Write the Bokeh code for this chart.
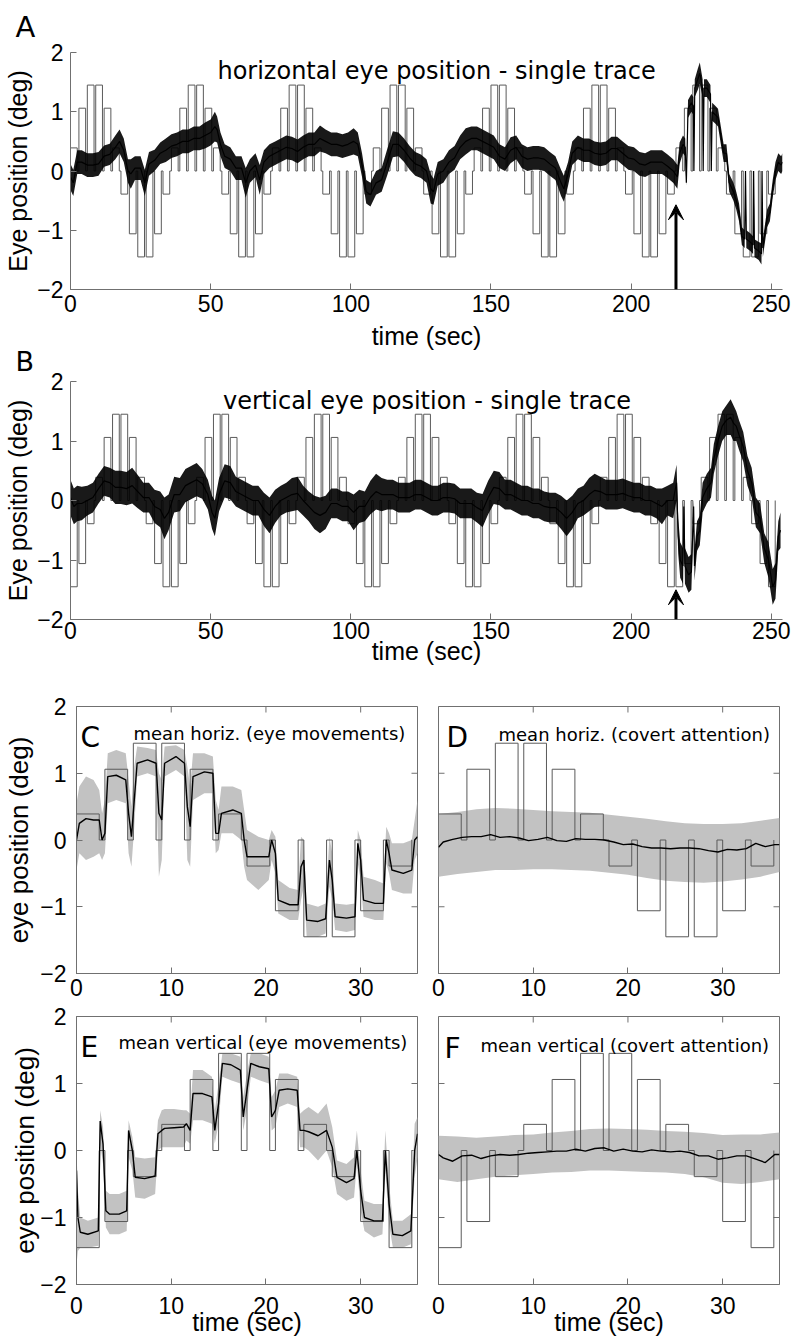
from math import pi
import numpy as np
from bokeh.plotting import figure
from bokeh.layouts import column, row
from bokeh.models import FixedTicker, Label, Arrow, VeeHead, Range1d
from bokeh.embed import file_html
from bokeh.resources import INLINE

# ---------------- data ----------------
# stimulus: 12 targets per 36 s cycle, each on for 2.4 s
target_on = [0, 3, 6, 9, 12, 15, 18, 21, 24, 27, 30, 33]
target_dur = 2.4
cycle_start = [0, 36, 72, 108, 144, 180, 216]
H_levels = [0.39, 1.06, 1.45, 1.45, 1.06, 0.39, -0.39, -1.06, -1.45, -1.45, -1.06, -0.39]
V_levels = [-1.45, -1.06, -0.39, 0.39, 1.06, 1.45, 1.45, 1.06, 0.39, -0.39, -1.06, -1.45]

arrow_t = 216
arrow_tip_A = -0.57
arrow_tip_B = -1.5

long_xticks = [0, 50, 100, 150, 200, 250]
short_xticks = [0, 10, 20, 30]
yticks = [-2, -1, 0, 1, 2]

# A: horizontal single trace (centre and half-width of the noisy trace)
A_t = [0, 1, 2.4, 4, 6, 8, 10, 12, 14, 16,
       17.5, 19, 20.5, 21.5, 23, 25, 26.5, 28, 30, 32,
       34, 36, 38, 40, 42, 44, 46, 48, 50, 51.5,
       52.3, 53.5, 55, 57, 59, 61, 62.5, 64, 66, 67.5,
       69, 71, 73, 75, 77, 79, 81, 83, 85, 87,
       89, 91, 93, 95, 97, 99, 101, 102.5, 104, 105.5,
       107, 109, 111, 113, 115, 117, 119, 121, 123, 125,
       127, 128.5, 129.5, 131, 133, 135, 137, 139, 141, 143,
       145, 147, 149, 151, 153, 155, 157, 159, 161, 163,
       165, 167, 169, 171, 173, 175, 176, 177.5, 179, 181,
       183, 185, 187, 189, 191, 193, 195, 197, 199, 201,
       203, 205, 207, 209, 211, 213, 215, 216.5, 217.3, 218.5,
       219.3, 219.7, 220.3, 221.5, 222.2, 222.4, 222.7, 223.8, 224.5, 225.5,
       225.7, 226.0, 227, 228.3, 228.6, 228.9, 230, 231, 232, 233,
       234, 235, 236.5, 237.5, 238.5, 239.5, 240.5, 240.8, 241.1, 242.5,
       243.5, 243.7, 244, 245.5, 246.5, 246.7, 247, 248.5, 249.5, 250.5,
       251.5, 252.5, 253.5, 254]
A_c = [-0.1, -0.2, 0.15, 0.15, 0.1, 0.1, 0.12, 0.25, 0.28, 0.4,
       0.5, 0.35, 0.0, -0.05, 0.05, 0.05, -0.2, 0.12, 0.18, 0.3,
       0.35, 0.42, 0.45, 0.5, 0.5, 0.55, 0.55, 0.6, 0.65, 0.75,
       0.7, 0.45, 0.25, 0.2, 0.05, 0.05, -0.2, 0.0, 0.1, -0.15,
       0.15, 0.25, 0.3, 0.35, 0.4, 0.38, 0.33, 0.4, 0.45, 0.45,
       0.55, 0.5, 0.45, 0.45, 0.42, 0.45, 0.5, 0.45, 0.1, -0.35,
       -0.4, -0.2, -0.15, 0.15, 0.45, 0.45, 0.35, 0.22, 0.12, 0.08,
       0.0, -0.3, -0.35, -0.05, 0.0, 0.15, 0.22, 0.4, 0.5, 0.55,
       0.55, 0.5, 0.45, 0.4, 0.25, 0.2, 0.35, 0.4, 0.25, 0.2,
       0.22, 0.22, 0.2, 0.12, 0.05, -0.2, -0.3, -0.05, 0.3, 0.4,
       0.35, 0.35, 0.3, 0.28, 0.3, 0.38, 0.38, 0.3, 0.22, 0.2,
       0.12, 0.1, 0.15, 0.15, 0.15, 0.08, 0.0, -0.1, 0.3, 0.45,
       0.4, -0.2, 1.05, 1.15, 1.1, 0.0, 1.4, 1.55, 1.65, 1.4,
       0.0, 1.4, 1.4, 1.3, 0.0, 1.0, 0.95, 0.9, 0.6, 0.3,
       0.3, -0.2, -0.35, -0.5, -0.7, -1.1, -1.15, 0.0, -1.15, -1.2,
       -1.25, 0.0, -1.3, -1.35, -1.4, 0.0, -1.3, -0.8, -0.7, -0.3,
       0.0, 0.15, 0.1, 0.15]
A_hw = [0.22, 0.22, 0.2, 0.2, 0.2, 0.2, 0.2, 0.18, 0.18, 0.2,
        0.2, 0.2, 0.2, 0.25, 0.2, 0.2, 0.22, 0.2, 0.18, 0.18,
        0.2, 0.2, 0.2, 0.2, 0.2, 0.2, 0.2, 0.22, 0.22, 0.25,
        0.22, 0.2, 0.2, 0.2, 0.2, 0.2, 0.25, 0.2, 0.2, 0.25,
        0.2, 0.2, 0.2, 0.2, 0.2, 0.2, 0.2, 0.2, 0.2, 0.2,
        0.22, 0.2, 0.2, 0.2, 0.2, 0.2, 0.22, 0.2, 0.2, 0.2,
        0.2, 0.2, 0.2, 0.22, 0.22, 0.2, 0.2, 0.2, 0.2, 0.2,
        0.2, 0.25, 0.22, 0.2, 0.2, 0.2, 0.2, 0.2, 0.22, 0.2,
        0.2, 0.2, 0.2, 0.2, 0.2, 0.2, 0.22, 0.2, 0.2, 0.2,
        0.2, 0.2, 0.2, 0.2, 0.2, 0.22, 0.22, 0.2, 0.2, 0.2,
        0.2, 0.2, 0.2, 0.2, 0.2, 0.2, 0.2, 0.2, 0.2, 0.2,
        0.2, 0.2, 0.2, 0.2, 0.2, 0.2, 0.2, 0.2, 0.18, 0.15,
        0.15, 0.05, 0.15, 0.15, 0.15, 0.03, 0.15, 0.18, 0.18, 0.15,
        0.03, 0.15, 0.15, 0.15, 0.03, 0.15, 0.15, 0.15, 0.15, 0.15,
        0.15, 0.15, 0.15, 0.15, 0.15, 0.15, 0.15, 0.03, 0.15, 0.15,
        0.15, 0.03, 0.15, 0.15, 0.18, 0.03, 0.15, 0.15, 0.15, 0.15,
        0.15, 0.15, 0.15, 0.15]

# B: vertical single trace
B_t = [0, 1.2, 2.4, 4, 6, 8, 10, 12, 14, 16,
       18, 20, 22, 24, 26, 28, 30, 32, 33.5, 35,
       37, 39, 41, 43, 45, 47, 49, 50.5, 51.5, 53,
       55, 57, 59, 61, 63, 65, 67, 69, 71, 73,
       75, 77, 79, 81, 83, 85, 87, 89, 91, 93,
       95, 97, 99, 101, 103, 105, 107, 109, 111, 113,
       115, 117, 119, 121, 123, 125, 127, 129, 131, 133,
       135, 137, 139, 141, 143, 145, 147, 149, 151, 153,
       155, 157, 159, 161, 163, 165, 167, 169, 171, 173,
       175, 177, 179, 181, 183, 185, 187, 189, 191, 193,
       195, 197, 199, 201, 203, 205, 207, 209, 211, 213,
       215, 216.2, 216.8, 217.5, 218.5, 218.8, 219.2, 220.5, 221.5, 222.3,
       222.6, 223.5, 224.5, 225.5, 227, 228.5, 229.5, 231, 232.5, 234,
       235.5, 236.5, 237.5, 238.5, 240, 241.5, 243, 244.5, 246, 247.5,
       249, 250.5, 251.5, 252.5, 253.3]
B_c = [0.05, -0.1, -0.05, -0.05, 0.0, 0.05, 0.2, 0.33, 0.3, 0.22,
       0.22, 0.2, 0.25, 0.15, 0.05, 0.05, -0.1, -0.15, -0.3, -0.2,
       0.1, 0.1, 0.25, 0.3, 0.35, 0.28, 0.1, -0.2, -0.3, 0.1,
       0.33, 0.3, 0.15, 0.1, 0.05, 0.0, 0.0, -0.15, -0.25, -0.1,
       0.0, 0.05, 0.1, 0.12, 0.0, -0.1, -0.2, -0.25, -0.2, -0.05,
       -0.05, -0.1, -0.1, -0.2, -0.1, -0.1, 0.05, 0.15, 0.1, 0.1,
       0.1, 0.05, 0.05, 0.05, 0.1, 0.1, 0.05, 0.0, 0.0, 0.05,
       0.05, 0.03, -0.05, -0.05, -0.05, -0.12, -0.17, 0.05, 0.22, 0.2,
       0.1, 0.1, 0.05, 0.0, 0.0, -0.05, -0.05, -0.1, -0.12, -0.12,
       -0.2, -0.3, -0.2, -0.05, 0.0, 0.1, 0.17, 0.15, 0.1, 0.1,
       0.1, 0.12, 0.08, 0.05, 0.05, 0.0, 0.0, -0.05, -0.1, 0.0,
       0.0, 0.3, -0.6, -1.0, -1.1, -0.1, -1.1, -1.25, -1.2, -0.1,
       -1.1, -0.6, -0.5, 0.05, 0.2, 0.3, 0.7, 1.0, 1.25, 1.35,
       1.4, 1.3, 1.25, 1.1, 0.9, 0.5, 0.3, -0.2, -0.3, -0.8,
       -1.0, -1.45, -1.35, -0.6, -0.5]
B_hw = [0.3, 0.3, 0.3, 0.28, 0.25, 0.25, 0.25, 0.25, 0.25, 0.28,
        0.28, 0.28, 0.3, 0.28, 0.25, 0.25, 0.28, 0.3, 0.35, 0.3,
        0.3, 0.28, 0.28, 0.28, 0.28, 0.25, 0.25, 0.28, 0.3, 0.28,
        0.28, 0.28, 0.25, 0.25, 0.25, 0.25, 0.25, 0.28, 0.3, 0.28,
        0.25, 0.25, 0.28, 0.28, 0.25, 0.25, 0.28, 0.3, 0.28, 0.25,
        0.25, 0.25, 0.25, 0.3, 0.28, 0.25, 0.28, 0.3, 0.28, 0.25,
        0.25, 0.25, 0.25, 0.25, 0.25, 0.25, 0.25, 0.25, 0.25, 0.25,
        0.25, 0.25, 0.25, 0.25, 0.25, 0.25, 0.28, 0.28, 0.28, 0.28,
        0.25, 0.25, 0.25, 0.25, 0.25, 0.25, 0.25, 0.25, 0.25, 0.25,
        0.28, 0.3, 0.28, 0.25, 0.25, 0.28, 0.28, 0.25, 0.25, 0.25,
        0.25, 0.25, 0.25, 0.25, 0.25, 0.25, 0.25, 0.25, 0.3, 0.25,
        0.3, 0.3, 0.3, 0.3, 0.3, 0.1, 0.3, 0.3, 0.3, 0.1,
        0.25, 0.25, 0.25, 0.25, 0.25, 0.25, 0.25, 0.25, 0.25, 0.25,
        0.3, 0.3, 0.25, 0.25, 0.25, 0.25, 0.25, 0.25, 0.25, 0.25,
        0.3, 0.3, 0.3, 0.25, 0.3]

# C: mean horizontal (eye movements): mean and band limits
C_t = [0, 0.3, 1.0, 1.8, 2.4, 2.7, 3.0, 3.3, 4.2, 5.2,
       5.5, 5.8, 6.1, 6.4, 7.5, 8.4, 8.7, 9.0, 9.3, 10.5,
       11.4, 11.7, 12.0, 12.3, 13.5, 14.4, 14.7, 15.0, 15.3, 16.5,
       17.4, 17.7, 18.0, 19.2, 20.3, 20.6, 21.0, 21.3, 22.5, 23.4,
       23.7, 24.0, 24.3, 25.5, 26.3, 26.7, 27.0, 27.3, 28.5, 29.4,
       29.7, 30.0, 30.3, 31.5, 32.4, 32.7, 33.0, 33.3, 34.5, 35.4,
       35.7, 36.0]
C_m = [0.0, 0.25, 0.32, 0.3, 0.3, 0.0, 0.1, 0.95, 0.97, 0.9,
       0.4, 0.05, 0.6, 1.15, 1.2, 1.15, 0.4, 0.3, 1.15, 1.25,
       1.15, 0.5, 0.2, 0.95, 1.02, 1.0, 0.1, 0.1, 0.4, 0.45,
       0.4, 0.0, -0.25, -0.25, -0.25, 0.0, -0.2, -0.9, -0.97, -0.97,
       -0.4, -0.3, -1.2, -1.22, -1.18, -0.3, -0.6, -1.15, -1.17, -1.15,
       -0.05, -0.3, -0.9, -0.95, -0.95, 0.0, -0.2, -0.45, -0.5, -0.45,
       0.0, 0.05]
C_lo = [-0.45, -0.2, -0.3, -0.25, -0.2, -0.3, -0.2, 0.55, 0.6, 0.55,
        -0.2, -0.4, 0.2, 0.95, 1.0, 0.95, -0.55, -0.3, 0.95, 1.05,
        0.95, -0.3, -0.4, 0.6, 0.7, 0.7, -0.2, -0.15, 0.1, 0.1,
        0.0, -0.4, -0.6, -0.75, -0.6, -0.3, -0.5, -1.1, -1.2, -1.2,
        -0.9, -0.7, -1.45, -1.45, -1.4, -0.7, -0.9, -1.35, -1.38, -1.35,
        -0.35, -0.6, -1.15, -1.2, -1.2, -0.35, -0.5, -0.75, -0.8, -0.8,
        -0.3, -0.2]
C_hi = [0.55, 0.8, 0.95, 0.9, 0.75, 0.4, 0.6, 1.3, 1.35, 1.3,
        0.9, 0.5, 1.1, 1.4, 1.38, 1.35, 1.0, 0.9, 1.4, 1.42,
        1.35, 1.1, 0.8, 1.3, 1.3, 1.25, 0.6, 0.45, 0.8, 0.8,
        0.75, 0.45, 0.15, 0.05, 0.0, 0.15, 0.05, -0.6, -0.72, -0.75,
        0.05, 0.0, -0.95, -1.0, -0.95, 0.05, -0.2, -0.95, -0.97, -0.95,
        0.15, 0.0, -0.55, -0.6, -0.65, 0.2, 0.1, -0.05, -0.05, 0.0,
        0.3, 0.6]

# E: mean vertical (eye movements)
E_t = [0, 0.15, 0.4, 1.2, 2.3, 2.5, 2.8, 3.1, 3.5, 4.5,
       5.3, 5.5, 5.9, 6.2, 7.2, 8.3, 8.6, 9.0, 9.3, 10.3,
       11.3, 11.6, 12.0, 12.3, 13.3, 14.3, 14.6, 15.0, 15.4, 16.3,
       17.3, 17.6, 18.0, 18.4, 19.3, 20.3, 20.6, 21.0, 21.4, 22.3,
       23.3, 23.6, 24.0, 24.5, 25.5, 26.4, 27.0, 27.5, 28.5, 29.3,
       29.6, 30.0, 30.4, 31.4, 32.3, 32.6, 33.0, 33.4, 34.4, 35.3,
       35.7, 36.0]
E_m = [-0.3, -1.0, -1.22, -1.25, -1.2, 0.44, 0.1, -0.9, -0.95, -0.95,
       -0.9, 0.3, 0.0, -0.4, -0.42, -0.38, 0.25, 0.3, 0.33, 0.34,
       0.35, 0.4, 0.3, 0.85, 0.85, 0.8, 0.3, 0.7, 1.3, 1.28,
       1.2, 0.5, 0.9, 1.3, 1.25, 1.22, 0.5, 0.6, 0.9, 0.92,
       0.9, 0.3, 0.3, 0.28, 0.22, 0.3, 0.05, -0.4, -0.48, -0.42,
       0.0, -0.6, -1.0, -1.05, -1.05, 0.0, -0.8, -1.25, -1.27, -1.2,
       0.0, 0.25]
E_lo = [-1.7, -1.5, -1.45, -1.45, -1.42, 0.1, -0.2, -1.15, -1.25, -1.25,
        -1.2, -0.1, -0.3, -0.7, -0.72, -0.65, 0.0, 0.05, 0.05, 0.05,
        0.05, 0.15, 0.1, 0.45, 0.45, 0.4, 0.1, 0.4, 1.1, 1.05,
        1.0, 0.3, 0.6, 1.1, 1.05, 1.0, 0.3, 0.35, 0.65, 0.7,
        0.65, 0.05, 0.05, 0.0, -0.15, 0.0, -0.25, -0.65, -0.75, -0.7,
        -0.2, -0.9, -1.2, -1.3, -1.25, -0.3, -1.1, -1.45, -1.45, -1.4,
        -0.4, -0.1]
E_hi = [0.0, -0.6, -1.0, -1.05, -1.0, 0.6, 0.35, -0.6, -0.65, -0.65,
        -0.6, 0.45, 0.2, -0.1, -0.12, -0.1, 0.45, 0.6, 0.62, 0.62,
        0.6, 0.6, 0.55, 1.2, 1.2, 1.1, 0.6, 1.0, 1.45, 1.45,
        1.4, 0.8, 1.15, 1.45, 1.45, 1.4, 0.8, 0.9, 1.15, 1.15,
        1.1, 0.55, 0.6, 0.65, 0.55, 0.7, 0.35, -0.15, -0.2, -0.1,
        0.3, -0.3, -0.75, -0.8, -0.8, 0.3, -0.5, -1.05, -1.05, -0.95,
        0.4, 0.5]

# D / F: covert attention means (1 s grid) and band limits (2 s grid)
DF_t = [0, 0.5, 1.5, 2.5, 3.5, 4.5, 5.5, 6.5, 7.5, 8.5,
        9.5, 10.5, 11.5, 12.5, 13.5, 14.5, 15.5, 16.5, 17.5, 18.5,
        19.5, 20.5, 21.5, 22.5, 23.5, 24.5, 25.5, 26.5, 27.5, 28.5,
        29.5, 30.5, 31.5, 32.5, 33.5, 34.5, 35.5, 36]
D_m = [-0.11, -0.03, 0.01, 0.04, 0.05, 0.05, 0.08, 0.04, 0.05, 0.03,
       -0.01, 0.01, 0.04, -0.01, -0.02, 0.02, 0.01, 0.01, 0.0, -0.03,
       -0.07, -0.06, -0.1, -0.12, -0.12, -0.13, -0.12, -0.12, -0.13, -0.16,
       -0.18, -0.14, -0.15, -0.13, -0.05, -0.1, -0.07, -0.07]
F_m = [-0.06, -0.11, -0.16, -0.08, -0.07, -0.12, -0.08, -0.06, -0.07, -0.06,
       -0.04, -0.03, -0.02, -0.01, -0.01, 0.02, -0.01, 0.03, 0.04, -0.01,
       0.02, -0.01, -0.02, 0.01, -0.01, -0.02, -0.01, -0.03, -0.08, -0.08,
       -0.13, -0.11, -0.08, -0.08, -0.13, -0.18, -0.06, -0.06]
band_t = [0, 2, 4, 6, 8, 10, 12, 14, 16, 18, 20, 22, 24, 26, 28, 30, 32, 34, 36]
D_lo = [-0.55, -0.51, -0.48, -0.45, -0.45, -0.44, -0.44, -0.45, -0.46, -0.49,
        -0.52, -0.57, -0.61, -0.63, -0.64, -0.62, -0.59, -0.55, -0.48]
D_hi = [0.39, 0.42, 0.46, 0.48, 0.47, 0.45, 0.43, 0.42, 0.41, 0.38,
        0.35, 0.32, 0.28, 0.25, 0.24, 0.24, 0.25, 0.29, 0.33]
F_lo = [-0.43, -0.47, -0.43, -0.39, -0.37, -0.35, -0.33, -0.32, -0.3, -0.3,
        -0.31, -0.32, -0.33, -0.35, -0.4, -0.48, -0.5, -0.47, -0.43]
F_hi = [0.22, 0.21, 0.19, 0.21, 0.23, 0.24, 0.27, 0.29, 0.32, 0.33,
        0.32, 0.31, 0.29, 0.28, 0.26, 0.23, 0.24, 0.24, 0.27]

# ---------------- styling helpers ----------------
GRAY = "#707070"
STIM = "#5a5a5a"
BAND = "#c2c2c2"
NUM_FONT = "Liberation Sans"
TXT_FONT = "DejaVu Sans"
TICK_LEN = 6


def make_fig(w, h, xr, left, right, top, bottom):
    p = figure(width=w, height=h, x_range=Range1d(*xr), y_range=Range1d(-2, 2),
               output_backend="svg", toolbar_location=None,
               min_border_left=left, min_border_right=right,
               min_border_top=top, min_border_bottom=bottom)
    p.xgrid.visible = False
    p.ygrid.visible = False
    p.outline_line_color = None
    p.background_fill_color = "white"
    p.border_fill_color = None
    return p


def style_axis(ax, ticks, standoff=6, label=None, label_size="25px", label_standoff=0):
    ax.ticker = FixedTicker(ticks=ticks)
    ax.minor_tick_line_color = None
    ax.major_tick_in = TICK_LEN
    ax.major_tick_out = 0
    ax.axis_line_color = GRAY
    ax.major_tick_line_color = GRAY
    ax.major_label_text_font = NUM_FONT
    ax.major_label_text_font_size = "23px"
    ax.major_label_text_color = "black"
    ax.major_label_standoff = standoff
    if label:
        ax.axis_label = label
        ax.axis_label_text_font = NUM_FONT
        ax.axis_label_text_font_size = label_size
        ax.axis_label_text_font_style = "normal"
        ax.axis_label_text_color = "black"
        ax.axis_label_standoff = label_standoff


def letter_title(p, text, size, offset, standoff):
    p.title.text = text
    p.title.align = "left"
    p.title.offset = offset
    p.title.text_font = TXT_FONT
    p.title.text_font_size = size
    p.title.text_font_style = "normal"
    p.title.text_color = "black"
    p.title.vertical_align = "top"
    p.title.standoff = standoff


def box_ticks(p, left_ticks=False):
    # inward ticks on the top and right edges (and left when that axis is hidden)
    p.outline_line_color = GRAY
    p.outline_line_width = 1
    p.ray(x=short_xticks, y=[2] * len(short_xticks), length=TICK_LEN,
          length_units="screen", angle=-pi / 2, line_color=GRAY, line_width=1)
    p.ray(x=[36] * len(yticks), y=yticks, length=TICK_LEN,
          length_units="screen", angle=pi, line_color=GRAY, line_width=1)
    if left_ticks:
        p.ray(x=[0] * len(yticks), y=yticks, length=TICK_LEN,
              length_units="screen", angle=0, line_color=GRAY, line_width=1)


def add_text(p, x, y, text, size, dx=0, dy=0, align="left"):
    p.add_layout(Label(x=x, y=y, x_offset=dx, y_offset=dy, text=text,
                       text_font=TXT_FONT, text_font_size=size, text_align=align,
                       text_baseline="alphabetic", text_color="black"))


def stim_path(levels, starts):
    xs, ys = [], []
    for c in starts:
        for on, lv in zip(target_on, levels):
            a = c + on
            b = a + target_dur
            xs += [a, a, b, b]
            ys += [0, lv, lv, 0]
    return xs, ys


def trace_panel(p, t, c, hw, levels, tip):
    sx, sy = stim_path(levels, cycle_start)
    p.line(sx, sy, line_color=STIM, line_width=1)
    c = np.array(c)
    hw = np.array(hw)
    p.varea(x=t, y1=c - hw, y2=c + hw, fill_color="black", fill_alpha=0.9)
    p.line(t, c, line_color="black", line_width=1.2)
    p.add_layout(Arrow(end=VeeHead(size=15, fill_color="black", line_color="black"),
                       x_start=arrow_t, y_start=-2, x_end=arrow_t, y_end=tip,
                       line_width=3, line_color="black"))


def mean_panel(p, mt, m, bt, lo, hi, levels):
    p.varea(x=bt, y1=lo, y2=hi, fill_color=BAND, fill_alpha=1.0)
    sx, sy = stim_path(levels, [0])
    p.line(sx, sy, line_color=STIM, line_width=1)
    p.line(mt, m, line_color="black", line_width=1.4)


# ---------------- panel A ----------------
pA = make_fig(792, 353, (0, 254), 70, 10, 52, 64)
style_axis(pA.xaxis[0], long_xticks, standoff=5, label="time (sec)", label_standoff=7)
style_axis(pA.yaxis[0], yticks, standoff=7, label="Eye position (deg)", label_standoff=2)
letter_title(pA, "A", "29px", -55, 14)
trace_panel(pA, A_t, A_c, A_hw, H_levels, arrow_tip_A)
add_text(pA, 130.6, 1.68, "horizontal eye position - single trace", "24px", align="center")

# ---------------- panel B (pulled up so its top margin overlaps A's bottom margin) ----------------
pB = make_fig(792, 328, (0, 254), 70, 10, 40, 50)
pB.margin = (-12, 0, 0, 0)
style_axis(pB.xaxis[0], long_xticks, standoff=2, label="time (sec)", label_standoff=-5)
style_axis(pB.yaxis[0], yticks, standoff=7, label="Eye position (deg)", label_standoff=2)
letter_title(pB, "B", "27px", -55, 5)
trace_panel(pB, B_t, B_c, B_hw, V_levels, arrow_tip_B)
add_text(pB, 127.2, 1.68, "vertical eye position - single trace", "24px", align="center")

# ---------------- panels C-F ----------------
pC = make_fig(425, 336, (0, 36), 76, 8, 37, 32)
style_axis(pC.xaxis[0], short_xticks, standoff=5)
style_axis(pC.yaxis[0], yticks, standoff=10, label="eye position (deg)",
           label_size="26px", label_standoff=3)
box_ticks(pC)
mean_panel(pC, C_t, C_m, C_t, C_lo, C_hi, H_levels)
add_text(pC, 0, 2, "C", "28px", dx=4, dy=-31)
add_text(pC, 0, 2, "mean horiz. (eye movements)", "18px", dx=57, dy=-27)

pD = make_fig(367, 336, (0, 36), 13, 13, 37, 32)
style_axis(pD.xaxis[0], short_xticks, standoff=5)
pD.yaxis.visible = False
box_ticks(pD, left_ticks=True)
mean_panel(pD, DF_t, D_m, band_t, D_lo, D_hi, H_levels)
add_text(pD, 0, 2, "D", "28px", dx=8, dy=-31)
add_text(pD, 0, 2, "mean horiz. (covert attention)", "18px", dx=60, dy=-28)

pE = make_fig(425, 336, (0, 36), 76, 8, 11, 57)
style_axis(pE.xaxis[0], short_xticks, standoff=12, label="time (sec)", label_standoff=-9)
style_axis(pE.yaxis[0], yticks, standoff=10, label="eye position (deg)",
           label_size="26px", label_standoff=-3)
box_ticks(pE)
mean_panel(pE, E_t, E_m, E_t, E_lo, E_hi, V_levels)
add_text(pE, 0, 2, "E", "28px", dx=4, dy=-31)
add_text(pE, 0, 2, "mean vertical (eye movements)", "18px", dx=42, dy=-26)

pF = make_fig(367, 336, (0, 36), 13, 13, 11, 57)
style_axis(pF.xaxis[0], short_xticks, standoff=12, label="time (sec)", label_standoff=-9)
pF.yaxis.visible = False
box_ticks(pF, left_ticks=True)
mean_panel(pF, DF_t, F_m, band_t, F_lo, F_hi, V_levels)
add_text(pF, 0, 2, "F", "28px", dx=6, dy=-32)
add_text(pF, 0, 2, "mean vertical (covert attention)", "18px", dx=42, dy=-29)

layout = column(pA, pB, row(pC, pD), row(pE, pF))
open("out.html", "w").write(file_html(layout, INLINE))
